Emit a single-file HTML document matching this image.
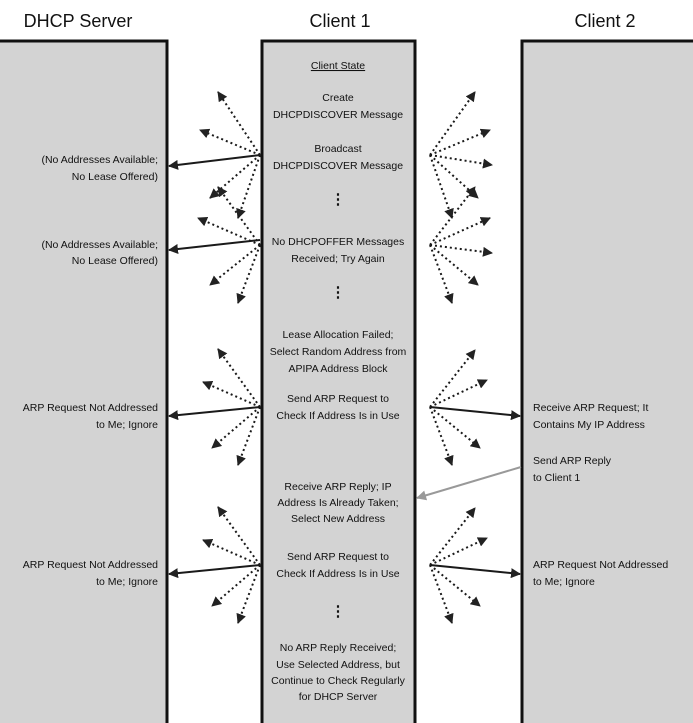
<!DOCTYPE html>
<html><head><meta charset="utf-8"><style>
html,body{margin:0;padding:0;background:#fff;width:693px;height:723px;overflow:hidden}
svg text{font-family:"Liberation Sans",sans-serif;font-size:10.5px;fill:#111;font-weight:500}
.h{font-size:18px}
.d{font-size:15px;font-weight:bold}
</style></head><body>
<svg width="693" height="723" viewBox="0 0 693 723" xmlns="http://www.w3.org/2000/svg">
<defs>
<marker id="a" viewBox="0 0 10 10" refX="9" refY="5" markerWidth="5" markerHeight="5" markerUnits="strokeWidth" orient="auto"><path d="M0,0L10,5L0,10z" fill="#222"/></marker>
<marker id="g" viewBox="0 0 10 10" refX="9" refY="5" markerWidth="6" markerHeight="5" markerUnits="strokeWidth" orient="auto"><path d="M0,0L10,5L0,10z" fill="#999"/></marker>
</defs>
<text class="h" x="78" y="27" text-anchor="middle">DHCP Server</text>
<text class="h" x="340" y="27" text-anchor="middle">Client 1</text>
<text class="h" x="605" y="27" text-anchor="middle">Client 2</text>
<rect x="0" y="41" width="167" height="690" fill="#d3d3d3"/>
<rect x="522" y="41" width="171" height="690" fill="#d3d3d3"/>
<path d="M0,41H167V723" fill="none" stroke="#111" stroke-width="3"/>
<rect x="262" y="41" width="153" height="690" fill="#d3d3d3" stroke="#111" stroke-width="3"/>
<path d="M693,41H522V723" fill="none" stroke="#111" stroke-width="3"/>
<g stroke="#1a1a1a" stroke-width="2" fill="none">
<g stroke-dasharray="2 3" marker-end="url(#a)">
<line x1="260" y1="155" x2="218" y2="92"/><line x1="260" y1="155" x2="200" y2="130"/><line x1="260" y1="155" x2="210" y2="198"/><line x1="260" y1="155" x2="238" y2="218"/>
<line x1="260" y1="245" x2="218" y2="187"/><line x1="260" y1="245" x2="198" y2="218"/><line x1="260" y1="245" x2="210" y2="285"/><line x1="260" y1="245" x2="238" y2="303"/>
<line x1="260" y1="407" x2="218" y2="349"/><line x1="260" y1="407" x2="203" y2="382"/><line x1="260" y1="407" x2="212" y2="448"/><line x1="260" y1="407" x2="238" y2="465"/>
<line x1="260" y1="565" x2="218" y2="507"/><line x1="260" y1="565" x2="203" y2="540"/><line x1="260" y1="565" x2="212" y2="606"/><line x1="260" y1="565" x2="238" y2="623"/>
<line x1="430" y1="155" x2="475" y2="92"/><line x1="430" y1="155" x2="490" y2="130"/><line x1="430" y1="155" x2="492" y2="165"/><line x1="430" y1="155" x2="478" y2="198"/><line x1="430" y1="155" x2="452" y2="218"/>
<line x1="430" y1="245" x2="475" y2="187"/><line x1="430" y1="245" x2="490" y2="218"/><line x1="430" y1="245" x2="492" y2="253"/><line x1="430" y1="245" x2="478" y2="285"/><line x1="430" y1="245" x2="452" y2="303"/>
<line x1="430" y1="407" x2="475" y2="350"/><line x1="430" y1="407" x2="487" y2="380"/><line x1="430" y1="407" x2="480" y2="448"/><line x1="430" y1="407" x2="452" y2="465"/>
<line x1="430" y1="565" x2="475" y2="508"/><line x1="430" y1="565" x2="487" y2="538"/><line x1="430" y1="565" x2="480" y2="606"/><line x1="430" y1="565" x2="452" y2="623"/>
</g>
<g marker-end="url(#a)">
<line x1="260" y1="155" x2="169" y2="166"/><line x1="260" y1="240" x2="169" y2="250"/>
<line x1="260" y1="407" x2="169" y2="416"/><line x1="260" y1="565" x2="169" y2="574"/>
<line x1="430" y1="407" x2="520" y2="416"/><line x1="430" y1="565" x2="520" y2="574"/>
</g>
<line x1="521" y1="467" x2="417" y2="498" stroke="#999" marker-end="url(#g)"/>
</g>
<g text-anchor="middle">
<text x="338" y="69" text-decoration="underline" font-size="12.5">Client State</text>
<text x="338" y="101">Create</text><text x="338" y="118">DHCPDISCOVER Message</text>
<text x="338" y="152">Broadcast</text><text x="338" y="169">DHCPDISCOVER Message</text>
<text class="d" x="338" y="204">⋮</text>
<text x="338" y="245">No DHCPOFFER Messages</text><text x="338" y="262">Received; Try Again</text>
<text class="d" x="338" y="297">⋮</text>
<text x="338" y="338">Lease Allocation Failed;</text><text x="338" y="355">Select Random Address from</text><text x="338" y="372">APIPA Address Block</text>
<text x="338" y="402">Send ARP Request to</text><text x="338" y="419">Check If Address Is in Use</text>
<text x="338" y="490">Receive ARP Reply; IP</text><text x="338" y="506">Address Is Already Taken;</text><text x="338" y="522">Select New Address</text>
<text x="338" y="560">Send ARP Request to</text><text x="338" y="577">Check If Address Is in Use</text>
<text class="d" x="338" y="616">⋮</text>
<text x="338" y="651">No ARP Reply Received;</text><text x="338" y="668">Use Selected Address, but</text><text x="338" y="684">Continue to Check Regularly</text><text x="338" y="700">for DHCP Server</text>
</g>
<g text-anchor="end">
<text x="158" y="163">(No Addresses Available;</text><text x="158" y="180">No Lease Offered)</text>
<text x="158" y="248">(No Addresses Available;</text><text x="158" y="264">No Lease Offered)</text>
<text x="158" y="411">ARP Request Not Addressed</text><text x="158" y="428">to Me; Ignore</text>
<text x="158" y="568">ARP Request Not Addressed</text><text x="158" y="585">to Me; Ignore</text>
</g>
<g>
<text x="533" y="411">Receive ARP Request; It</text><text x="533" y="428">Contains My IP Address</text>
<text x="533" y="464">Send ARP Reply</text><text x="533" y="481">to Client 1</text>
<text x="533" y="568">ARP Request Not Addressed</text><text x="533" y="585">to Me; Ignore</text>
</g>
</svg>
</body></html>
